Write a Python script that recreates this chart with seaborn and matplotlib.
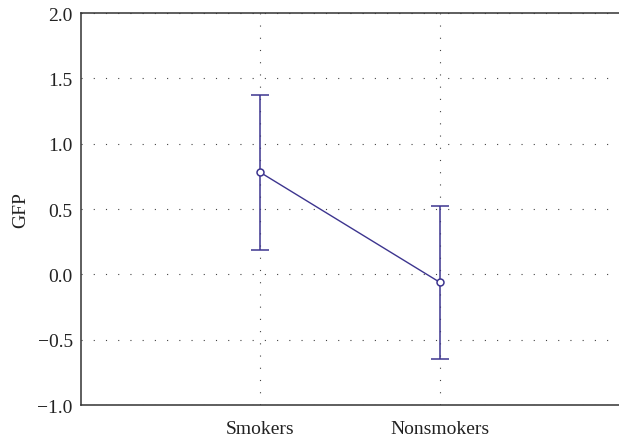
import matplotlib
matplotlib.use('Agg')
import matplotlib.pyplot as plt
import seaborn as sns
import pandas as pd

groups = ['Smokers', 'Nonsmokers']
gfp_mean = [0.78, -0.06]
gfp_low = [0.19, -0.65]
gfp_high = [1.37, 0.52]

color = '#3d358f'

sns.set_style('white')
plt.rcParams['font.family'] = ['Liberation Serif', 'DejaVu Serif']

df = pd.DataFrame({'group': groups, 'gfp': gfp_mean})

fig = plt.figure(figsize=(6.19, 4.39), dpi=100)
ax = fig.add_axes([0.131, 0.075, 0.869, 0.893])

# error bars first so the open markers sit on top
err_lo = [m - l for m, l in zip(gfp_mean, gfp_low)]
err_hi = [h - m for m, h in zip(gfp_mean, gfp_high)]
ax.errorbar([0, 1], gfp_mean, yerr=[err_lo, err_hi], fmt='none',
            ecolor=color, elinewidth=1.1, capsize=6.5, capthick=1.1, zorder=2)

sns.pointplot(data=df, x='group', y='gfp', errorbar=None, color=color,
              markers='o', linestyles='-', ax=ax,
              markersize=5, linewidth=1.0,
              markerfacecolor='white', markeredgecolor=color, markeredgewidth=1.1)
for coll in ax.collections:
    coll.set_zorder(3)
for ln in ax.lines:
    ln.set_zorder(3)

ax.set_xlim(-1, 2)
ax.set_ylim(-1.0, 2.0)
ax.set_yticks([-1.0, -0.5, 0.0, 0.5, 1.0, 1.5, 2.0])
ax.set_yticklabels(['\u22121.0', '\u22120.5', '0.0', '0.5', '1.0', '1.5', '2.0'])
ax.set_xlabel('')
ax.set_ylabel('GFP', fontsize=14, labelpad=6, color='#222222')

ax.grid(True, color='#444444', linestyle=(0, (1, 10)), linewidth=0.8)
ax.set_axisbelow(True)
ax.tick_params(axis='y', length=0, labelsize=14, colors='#222222', pad=6)
ax.tick_params(axis='x', length=0, labelsize=14, colors='#222222', pad=11)

for side in ['left', 'top', 'bottom']:
    ax.spines[side].set_color('#333333')
    ax.spines[side].set_linewidth(1.1)
ax.spines['right'].set_visible(False)

fig.savefig('out.png', dpi=100)
